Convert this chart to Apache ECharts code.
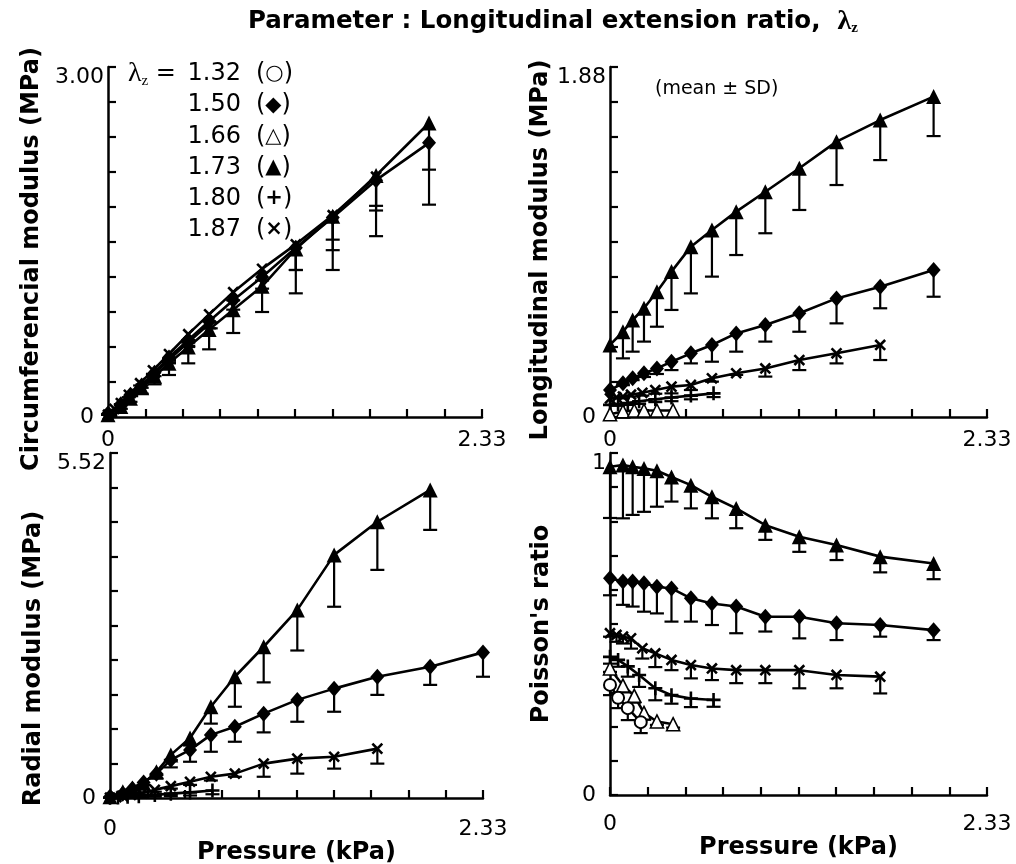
<!DOCTYPE html>
<html><head><meta charset="utf-8">
<script src="https://cdn.jsdelivr.net/npm/echarts@6/dist/echarts.min.js"></script>
<style>html,body{margin:0;padding:0;background:#fff}#c{width:1016px;height:864px}</style>
</head><body><div id="c"></div>
<script>
// ---------- pressure values (kPa) per series ----------
const P_A      = [0, 0.08, 0.14, 0.21, 0.29, 0.38, 0.5, 0.63, 0.78, 0.96, 1.17, 1.4, 1.67, 2.0]; // λz 1.50, 1.73
const P_A_EXT  = [0, 0.08, 0.14, 0.21, 0.29, 0.38, 0.5, 0.63, 0.78, 0.96, 1.17, 1.4, 1.67, 2.0, 2.33]; // λz 1.50 radial
const P_X      = [0, 0.04, 0.08, 0.13, 0.2, 0.28, 0.38, 0.5, 0.63, 0.78, 0.96, 1.17, 1.4, 1.67]; // λz 1.87
const P_PLUS   = [0, 0.05, 0.11, 0.18, 0.28, 0.38, 0.5, 0.64];  // λz 1.80
const P_OPEN   = [0, 0.08, 0.15, 0.21, 0.29, 0.39];             // λz 1.66
const P_CIRC   = [0, 0.05, 0.11, 0.19];                         // λz 1.32

// ---------- Circumferential modulus (MPa) ----------
const CIRC_150 = [0.03, 0.11, 0.19, 0.27, 0.38, 0.51, 0.66, 0.82, 1.0, 1.2, 1.45, 1.71, 2.03, 2.35];
const CIRC_150_SD = [0, 0.01, 0.01, 0.02, 0.03, 0.04, 0.05, 0.06, 0.08, 0.1, 0.19, 0.19, 0.26, 0.23];
const CIRC_173 = [0.02, 0.09, 0.16, 0.25, 0.35, 0.46, 0.6, 0.75, 0.92, 1.12, 1.44, 1.72, 2.07, 2.52];
const CIRC_173_SD = [0, 0.02, 0.03, 0.05, 0.07, 0.1, 0.14, 0.17, 0.2, 0.22, 0.38, 0.46, 0.52, 0.7];
const CIRC_180 = [0.02, 0.06, 0.14, 0.23, 0.36, 0.49, 0.64, 0.81]; const CIRC_180_SD = [0, 0.01, 0.01, 0.02, 0.02, 0.03, 0.04, 0.05];
const CIRC_187 = [0.02, 0.07, 0.12, 0.19, 0.29, 0.4, 0.54, 0.71, 0.88, 1.07, 1.27, 1.48, 1.73, 2.06];
const CIRC_187_SD = [0, 0.01, 0.01, 0.02, 0.02, 0.03, 0.04, 0.05, 0.06, 0.07, 0.1, 0.22, 0.3, 0.25];

// ---------- Longitudinal modulus (MPa) ----------
const LONG_150 = [0.145, 0.181, 0.208, 0.235, 0.261, 0.297, 0.342, 0.387, 0.449, 0.494, 0.557, 0.637, 0.70, 0.79];
const LONG_150_SD = [0, 0.01, 0.01, 0.02, 0.03, 0.045, 0.054, 0.09, 0.098, 0.089, 0.099, 0.134, 0.116, 0.144];
const LONG_166 = [0.015, 0.03, 0.035, 0.035, 0.035, 0.035]; const LONG_166_SD = [0, 0, 0, 0, 0, 0];
const LONG_173 = [0.387, 0.458, 0.521, 0.584, 0.673, 0.781, 0.915, 1.004, 1.103, 1.21, 1.336, 1.479, 1.595, 1.721];
const LONG_173_SD = [0, 0.143, 0.17, 0.179, 0.188, 0.206, 0.251, 0.25, 0.233, 0.223, 0.224, 0.233, 0.215, 0.212];
const LONG_180 = [0.065, 0.07, 0.075, 0.085, 0.095, 0.105, 0.115, 0.127]; const LONG_180_SD = [0, 0.01, 0.01, 0.015, 0.015, 0.02, 0.02, 0.02];
const LONG_187 = [0.1, 0.105, 0.11, 0.12, 0.13, 0.145, 0.163, 0.172, 0.208, 0.235, 0.261, 0.306, 0.342, 0.387];
const LONG_187_SD = [0, 0, 0.01, 0.01, 0.015, 0.02, 0.036, 0.027, 0.018, 0.009, 0.044, 0.054, 0.054, 0.081];

// ---------- Radial modulus (MPa) ----------
const RAD_150 = [0.02, 0.07, 0.15, 0.25, 0.39, 0.61, 0.77, 1.01, 1.14, 1.35, 1.57, 1.75, 1.94, 2.10, 2.33];
const RAD_150_SD = [0, 0.01, 0.02, 0.04, 0.08, 0.12, 0.19, 0.27, 0.24, 0.3, 0.35, 0.37, 0.29, 0.29, 0.39];
const RAD_173 = [0.02, 0.10, 0.16, 0.235, 0.42, 0.69, 0.96, 1.46, 1.94, 2.42, 3.01, 3.89, 4.42, 4.93];
const RAD_173_SD = [0, 0.01, 0.02, 0.03, 0.05, 0.08, 0.12, 0.27, 0.48, 0.57, 0.65, 0.83, 0.77, 0.64];
const RAD_180 = [0.005, 0.01, 0.02, 0.03, 0.05, 0.07, 0.09, 0.12]; const RAD_180_SD = [0, 0, 0, 0.02, 0.03, 0.04, 0.05, 0.06];
const RAD_187 = [0.005, 0.015, 0.03, 0.05, 0.075, 0.13, 0.19, 0.26, 0.34, 0.39, 0.55, 0.63, 0.66, 0.79];
const RAD_187_SD = [0, 0, 0, 0.01, 0.02, 0.03, 0.04, 0.05, 0.06, 0.05, 0.21, 0.24, 0.19, 0.24];

// ---------- Poisson's ratio ----------
const POIS_132 = [0.322, 0.284, 0.254, 0.213];        const POIS_132_SD = [0.03, 0.03, 0.035, 0.032];
const POIS_150 = [0.634, 0.624, 0.624, 0.619, 0.609, 0.604, 0.575, 0.56, 0.551, 0.521, 0.521, 0.502, 0.497, 0.482];
const POIS_150_SD = [0.05, 0.068, 0.073, 0.083, 0.078, 0.097, 0.068, 0.063, 0.078, 0.043, 0.063, 0.049, 0.034, 0.029];
const POIS_166 = [0.37, 0.32, 0.29, 0.24, 0.215, 0.207]; const POIS_166_SD = [0.01, 0.02, 0.02, 0.02, 0.01, 0.01];
const POIS_173 = [0.96, 0.965, 0.96, 0.955, 0.948, 0.93, 0.906, 0.872, 0.838, 0.789, 0.755, 0.731, 0.697, 0.677];
const POIS_173_SD = [0.15, 0.156, 0.141, 0.127, 0.105, 0.072, 0.068, 0.063, 0.058, 0.043, 0.044, 0.044, 0.046, 0.046];
const POIS_180 = [0.404, 0.395, 0.376, 0.351, 0.312, 0.292, 0.282, 0.278]; const POIS_180_SD = [0.02, 0.02, 0.03, 0.035, 0.035, 0.025, 0.025, 0.02];
const POIS_187 = [0.473, 0.468, 0.463, 0.458, 0.429, 0.414, 0.395, 0.38, 0.37, 0.365, 0.365, 0.365, 0.351, 0.346];
const POIS_187_SD = [0.01, 0.02, 0.02, 0.03, 0.03, 0.04, 0.03, 0.039, 0.034, 0.038, 0.038, 0.053, 0.039, 0.049];

// ---------- axes / text ----------
const X_MAX = 2.33, X_STEP = 0.233;
const Y_MAX = [3.00, 1.88, 5.52, 1];
const Y_MAX_LABEL = ['3.00', '1.88', '5.52', '1'];
const Y_NAMES = ['Circumferencial modulus (MPa)', 'Longitudinal modulus (MPa)', 'Radial modulus (MPa)', "Poisson's ratio"];
const LEGEND_VALUES = ['1.32', '1.50', '1.66', '1.73', '1.80', '1.87'];
const LEGEND_SYMBOLS = ['○', '◆', '△', '▲', '+', '×'];

const FONT = "'DejaVu Sans', 'Liberation Sans', sans-serif";
const SERIF = "'Liberation Serif', 'DejaVu Serif', serif";

const PLUS = 'path://M-1.3,-7H1.3V-1.3H7V1.3H1.3V7H-1.3V1.3H-7V-1.3H-1.3Z';
const STYLES = {
  '132': {symbol: 'circle', size: 12, fill: '#fff', bw: 2},
  '150': {symbol: 'diamond', size: [14, 16], fill: '#000', bw: 0},
  '166': {symbol: 'triangle', size: 13, fill: '#fff', bw: 1.6},
  '173': {symbol: 'triangle', size: 15, fill: '#000', bw: 0},
  '180': {symbol: PLUS, size: 14, fill: '#000', bw: 0},
  '187': {symbol: PLUS, size: 14, fill: '#000', bw: 0, rotate: 45}
};

const PANELS = [
  {grid: {left: 108, top: 67, width: 374, height: 350}, sets: [
    ['173', P_A, CIRC_173, CIRC_173_SD], ['150', P_A, CIRC_150, CIRC_150_SD], ['187', P_X, CIRC_187, CIRC_187_SD],
    ['180', P_PLUS, CIRC_180, CIRC_180_SD]],
    nameGap: 64, namePad: 34, xMargin: 12},
  {grid: {left: 610, top: 67, width: 377, height: 350}, sets: [
    ['173', P_A, LONG_173, LONG_173_SD], ['150', P_A, LONG_150, LONG_150_SD], ['187', P_X, LONG_187, LONG_187_SD],
    ['180', P_PLUS, LONG_180, LONG_180_SD], ['166', P_OPEN, LONG_166, LONG_166_SD]],
    nameGap: 56, namePad: 16, xMargin: 12},
  {grid: {left: 110, top: 453, width: 373, height: 345}, sets: [
    ['173', P_A, RAD_173, RAD_173_SD], ['150', P_A_EXT, RAD_150, RAD_150_SD], ['187', P_X, RAD_187, RAD_187_SD],
    ['180', P_PLUS, RAD_180, RAD_180_SD]],
    nameGap: 64, namePad: 66, xMargin: 20},
  {grid: {left: 610, top: 453, width: 377, height: 342}, sets: [
    ['173', P_A, POIS_173, POIS_173_SD], ['150', P_A, POIS_150, POIS_150_SD], ['187', P_X, POIS_187, POIS_187_SD],
    ['180', P_PLUS, POIS_180, POIS_180_SD], ['166', P_OPEN, POIS_166, POIS_166_SD], ['132', P_CIRC, POIS_132, POIS_132_SD]],
    nameGap: 56, namePad: 0, xMargin: 18}
];

function errItem(params, api) {
  const x = api.value(0), y = api.value(1), sd = api.value(2);
  if (!sd) return {type: 'group', children: []};
  const a = api.coord([x, y]), b = api.coord([x, y - sd]);
  const w = 7;
  return {type: 'group', children: [
    {type: 'line', shape: {x1: a[0], y1: a[1], x2: b[0], y2: b[1]}, style: {stroke: '#000', lineWidth: 2.2}},
    {type: 'line', shape: {x1: b[0] - w, y1: b[1], x2: b[0] + w, y2: b[1]}, style: {stroke: '#000', lineWidth: 2.2}}
  ]};
}

const grids = [], xAxes = [], yAxes = [], series = [];
PANELS.forEach((p, i) => {
  grids.push(Object.assign({outerBoundsMode: 'none', containLabel: false}, p.grid));
  const axisLine = {show: true, onZero: false, lineStyle: {color: '#000', width: 2.5}};
  const axisTick = {show: true, inside: true, length: 8, lineStyle: {color: '#000', width: 2.2}};
  xAxes.push({
    type: 'value', gridIndex: i, min: 0, max: X_MAX, interval: X_STEP,
    axisLine, axisTick, splitLine: {show: false},
    name: i >= 2 ? 'Pressure (kPa)' : '', nameLocation: 'middle', nameGap: 30,
    nameTextStyle: {fontFamily: FONT, fontWeight: 'bold', fontSize: 24, color: '#000'},
    axisLabel: {
      show: true, showMinLabel: true, showMaxLabel: true, margin: p.xMargin,
      fontFamily: FONT, fontSize: 22, color: '#000',
      formatter: v => (Math.abs(v) < 1e-6 ? '0' : (Math.abs(v - X_MAX) < 1e-4 ? '2.33' : ''))
    }
  });
  const ym = Y_MAX[i];
  yAxes.push({
    type: 'value', gridIndex: i, min: 0, max: ym, interval: ym / 10,
    axisLine, axisTick, splitLine: {show: false},
    name: Y_NAMES[i], nameLocation: 'middle', nameGap: p.nameGap,
    nameTextStyle: {fontFamily: FONT, fontWeight: 'bold', fontSize: 24, color: '#000', padding: [0, p.namePad, 0, 0]},
    axisLabel: {
      show: true, showMinLabel: true, showMaxLabel: true, margin: 4,
      fontFamily: FONT, fontSize: 22, color: '#000',
      formatter: v => (Math.abs(v) < 1e-9 ? '{z|0}' : (Math.abs(v - ym) < ym * 1e-4 ? '{t|' + Y_MAX_LABEL[i] + '}' : '')),
      rich: {
        z: {fontFamily: FONT, fontSize: 22, color: '#000', padding: [0, 10, 0, 0]},
        t: {fontFamily: FONT, fontSize: 22, color: '#000', padding: [20, 0, 0, 0]}
      }
    }
  });
  p.sets.forEach(([key, xs, ys, sds]) => {
    const st = STYLES[key];
    const pts = xs.map((x, k) => [x, ys[k], sds[k]]);
    series.push({
      type: 'custom', xAxisIndex: i, yAxisIndex: i, data: pts, renderItem: errItem,
      encode: {x: 0, y: 1}, z: 2, silent: true, animation: false, clip: false
    });
    series.push({
      type: 'line', xAxisIndex: i, yAxisIndex: i, data: pts.map(d => [d[0], d[1]]),
      symbol: st.symbol, symbolSize: st.size, symbolRotate: st.rotate || 0, showAllSymbol: true,
      lineStyle: {color: '#000', width: 2.6},
      itemStyle: {color: st.fill, borderColor: '#000', borderWidth: st.bw},
      z: 3, silent: true, animation: false, clip: false
    });
  });
});

const legendGraphics = [];
LEGEND_VALUES.forEach((v, k) => {
  const y = 74 + k * 31.2;
  legendGraphics.push({type: 'text', x: 241, y, style: {text: v, align: 'right', verticalAlign: 'middle', fontFamily: FONT, fontSize: 24, fill: '#000'}});
  legendGraphics.push({type: 'text', x: 256, y, style: {
    text: '({s|' + LEGEND_SYMBOLS[k] + '})', align: 'left', verticalAlign: 'middle', fontFamily: FONT, fontSize: 24, fill: '#000',
    rich: {s: {fontFamily: FONT, fontSize: 21, fill: '#000', fontWeight: 'bold'}}}});
});
legendGraphics.push({type: 'text', x: 128, y: 74, style: {
  text: '{l|λ}{s|z}{e| =}', align: 'left', verticalAlign: 'middle', fill: '#000',
  rich: {l: {fontFamily: SERIF, fontSize: 28, fill: '#000'}, s: {fontFamily: SERIF, fontSize: 15, fill: '#000', padding: [14, 0, 0, 0]},
         e: {fontFamily: FONT, fontSize: 24, fill: '#000'}}}});
legendGraphics.push({type: 'text', x: 655, y: 89, style: {text: '(mean ± SD)', align: 'left', verticalAlign: 'middle', fontFamily: FONT, fontSize: 19, fill: '#000'}});

const chart = echarts.init(document.getElementById('c'), null, {renderer: 'canvas'});
chart.setOption({
  backgroundColor: '#fff',
  animation: false,
  title: {
    text: '{a|Parameter : Longitudinal extension ratio,  }{l|λ}{s|z}', left: 243, top: 2,
    textStyle: {rich: {
      a: {fontFamily: FONT, fontWeight: 'bold', fontSize: 24.5, color: '#000'},
      l: {fontFamily: SERIF, fontSize: 28, color: '#000'},
      s: {fontFamily: SERIF, fontSize: 15, color: '#000', padding: [14, 0, 0, 0]}
    }}
  },
  grid: grids, xAxis: xAxes, yAxis: yAxes, series,
  graphic: legendGraphics
});
</script></body></html>
